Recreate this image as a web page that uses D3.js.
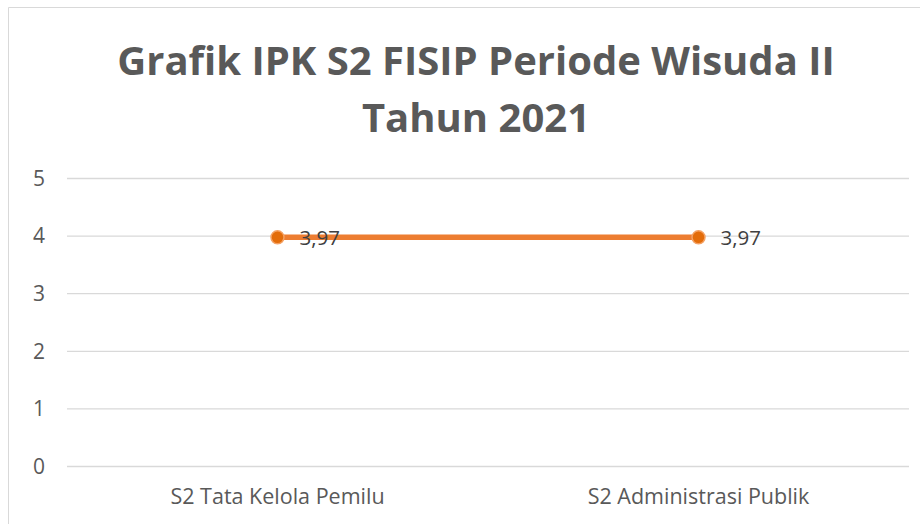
<!DOCTYPE html>
<html>
<head>
<meta charset="utf-8">
<script src="https://cdn.jsdelivr.net/npm/d3@7"></script>
<style>
  html, body { margin: 0; padding: 0; background: #fff; }
  svg { display: block; }
</style>
</head>
<body>
<svg id="chart" width="920" height="524"></svg>
<script>
const titleLines = ['Grafik IPK S2 FISIP Periode Wisuda II', 'Tahun 2021']
const categories = ['S2 Tata Kelola Pemilu', 'S2 Administrasi Publik']
const ipkValues = [3.97, 3.97]
const yTicks = [0, 1, 2, 3, 4, 5]

const font = '"Open Sans", Carlito, Calibri, sans-serif'
const svg = d3.select('#chart')
const margin = { top: 178, right: 11, bottom: 58, left: 67 }
const width = 920, height = 524
const innerWidth = width - margin.left - margin.right
const innerHeight = height - margin.top - margin.bottom

// chart frame: only top and left edges are visible, the rest is cropped
svg.append('path')
  .attr('d', `M8.5,${height}V7.5H${width}`)
  .attr('fill', 'none').attr('stroke', '#d9d9d9')

svg.append('g').selectAll('text')
  .data(titleLines)
  .join('text')
  .attr('x', 476)
  .attr('y', (d, i) => 75 + i * 57)
  .attr('text-anchor', 'middle')
  .attr('fill', '#595959')
  .attr('font-family', font)
  .attr('font-weight', 700)
  .attr('font-size', 40)
  .text((d) => d)

const x = d3.scaleBand().domain(categories).range([0, innerWidth])
const y = d3.scaleLinear().domain([0, 5]).range([innerHeight, 0])

const root = svg.append('g').attr('transform', `translate(${margin.left},${margin.top})`)

const yAxis = root.append('g')
  .call(d3.axisLeft(y).tickValues(yTicks).tickSize(-innerWidth).tickFormat(d3.format('d')))
yAxis.select('.domain').remove()
yAxis.selectAll('line').attr('stroke', '#d9d9d9').attr('stroke-width', 1.3)
yAxis.selectAll('text')
  .attr('text-anchor', 'start')
  .attr('x', -34)
  .attr('dy', '0.35em')
  .attr('fill', '#595959')
  .attr('font-family', font)
  .attr('font-size', 21)

const xAxis = root.append('g')
  .attr('transform', `translate(0,${innerHeight})`)
  .call(d3.axisBottom(x).tickSize(0))
xAxis.select('.domain').remove()
xAxis.selectAll('text')
  .attr('y', 38)
  .attr('dy', 0)
  .attr('fill', '#595959')
  .attr('font-family', font)
  .attr('font-size', 21.5)

const cx = (i) => x(categories[i]) + x.bandwidth() / 2

root.append('path')
  .datum(ipkValues)
  .attr('fill', 'none')
  .attr('stroke', '#ed7d31')
  .attr('stroke-width', 5.5)
  .attr('d', d3.line().x((d, i) => cx(i)).y((d) => y(d)))

root.selectAll('circle')
  .data(ipkValues)
  .join('circle')
  .attr('cx', (d, i) => cx(i))
  .attr('cy', (d) => y(d))
  .attr('r', 6.5)
  .attr('fill', '#e36c0a')
  .attr('stroke', '#f4a163')
  .attr('stroke-width', 1.5)

root.selectAll('.value')
  .data(ipkValues)
  .join('text')
  .attr('class', 'value')
  .attr('x', (d, i) => cx(i) + 22)
  .attr('y', (d) => y(d) + 7.5)
  .attr('fill', '#404040')
  .attr('font-family', font)
  .attr('font-size', 20.5)
  .text((d) => d3.format('.2f')(d).replace('.', ','))
</script>
</body>
</html>
